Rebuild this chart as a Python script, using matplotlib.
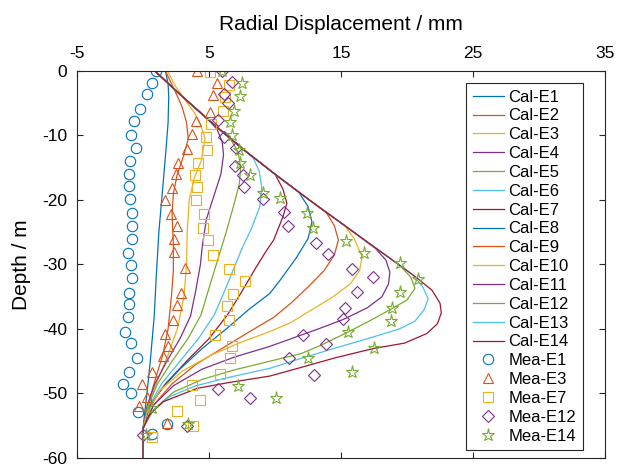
import matplotlib
matplotlib.use("Agg")
import matplotlib.pyplot as plt

plt.rcParams["font.family"] = ["Liberation Sans", "DejaVu Sans"]
plt.rcParams["axes.unicode_minus"] = False

# Calculated wall deflection curves (x: displacement mm, y: depth m)
cal_e1_x = [1.7, 1.9, 1.95, 1.9, 1.75, 1.5, 1.2, 1.0, 0.85, 0.55, 0.3, 0.1, 0.0, 0.0]
cal_e1_y = [0, -2, -4, -8, -12, -18, -25, -32, -38, -45, -50, -53.5, -55.5, -60]

cal_e2_x = [1.7, 2.4, 2.95, 3.3, 3.43, 3.1, 2.6, 2.3, 2.2, 2.3, 2.3, 2.15, 1.9, 1.5, 0.9, 0.35, 0.05, 0.0, 0.0]
cal_e2_y = [0, -3, -5.5, -8, -10.5, -13, -16, -19, -22, -27, -31, -35, -40, -44, -48, -52, -55, -55.5, -60]

cal_e3_x = [1.85, 2.5, 3.2, 3.9, 4.4, 4.7, 4.4, 3.9, 3.5, 3.35, 3.3, 3.1, 2.6, 1.9, 1.1, 0.4, 0.0, 0.0]
cal_e3_y = [0, -2.5, -4.5, -6.5, -8.5, -10.5, -14, -16.5, -20, -25, -30, -35, -40, -44, -48, -52, -55.5, -60]

cal_e4_x = [0.9, 3.0, 4.9, 5.6, 6.0, 6.1, 5.9, 5.35, 4.8, 4.5, 4.35, 4.0, 3.6, 2.8, 1.8, 0.9, 0.3, 0.0, 0.0]
cal_e4_y = [0, -4, -7.5, -9, -11, -13, -16, -19.5, -23, -27, -30, -34, -38, -41.5, -45, -48.5, -52, -55.5, -60]

cal_e5_x = [0.9, 3.0, 5.2, 6.6, 7.2, 7.4, 7.3, 6.85, 6.3, 5.7, 5.1, 4.4, 3.4, 2.2, 1.1, 0.35, 0.0, 0.0]
cal_e5_y = [0, -4, -8, -10.5, -12.5, -15, -17.5, -21, -25, -29, -33, -37.8, -41.5, -45, -48.5, -52, -55.5, -60]

cal_e6_x = [0.9, 3.0, 5.2, 7.5, 8.35, 8.8, 9.0, 8.85, 8.2, 7.5, 6.8, 6.1, 5.4, 4.2, 2.8, 1.4, 0.45, 0.0, 0.0]
cal_e6_y = [0, -4, -8, -12, -13.5, -15.5, -18, -21, -24.5, -27.5, -31, -34.5, -37.8, -41.5, -45, -48.5, -52, -55.5, -60]

cal_e7_x = [0.9, 3.0, 5.2, 7.5, 10.0, 10.6, 10.9, 10.6, 9.9, 9.3, 8.4, 7.4, 6.4, 5.0, 3.3, 1.7, 0.5, 0.0, 0.0]
cal_e7_y = [0, -4, -8, -12, -16, -18.3, -20.5, -22.6, -26.2, -28, -31, -34.5, -37.8, -41.5, -45, -48.5, -52, -55.5, -60]

cal_e8_x = [0.9, 3.0, 5.2, 7.5, 10.0, 11.8, 12.5, 12.8, 12.5, 11.6, 10.4, 9.6, 8.0, 6.3, 4.5, 2.8, 1.3, 0.3, 0.0, 0.0]
cal_e8_y = [0, -4, -8, -12, -16, -18.8, -21, -23.4, -26, -29, -32.4, -34.5, -37, -40, -43, -46.2, -49.5, -53, -55.5, -60]

cal_e9_x = [0.9, 3.0, 5.2, 7.5, 10.0, 12.6, 13.9, 14.5, 14.8, 14.5, 13.7, 12.5, 11.2, 9.9, 8.0, 6.0, 4.0, 2.2, 0.8, 0.1, 0.0, 0.0]
cal_e9_y = [0, -4, -8, -12, -16, -20, -22, -24, -26.2, -28.5, -31, -33.5, -36, -38.2, -40.5, -43, -45.5, -48.5, -51.8, -55, -55.5, -60]

cal_e10_x = [0.9, 3.0, 5.2, 7.5, 10.0, 12.6, 15.3, 16.0, 16.6, 16.4, 15.7, 14.4, 12.8, 11.2, 9.6, 7.5, 5.2, 3.0, 1.3, 0.3, 0.0, 0.0]
cal_e10_y = [0, -4, -8, -12, -16, -20, -24, -26, -28.8, -31, -33, -35, -37, -39, -40.4, -42, -44, -46.5, -49.5, -53, -55.5, -60]

cal_e11_x = [0.9, 3.0, 5.2, 7.5, 10.0, 12.6, 15.3, 17.6, 18.4, 18.7, 18.6, 18.1, 17.0, 15.2, 13.4, 11.5, 9.6, 7.0, 4.5, 2.3, 0.8, 0.1, 0.0, 0.0]
cal_e11_y = [0, -4, -8, -12, -16, -20, -24, -27.5, -29.3, -31.2, -33, -35, -36.7, -38.5, -39.9, -41.3, -42.7, -44.3, -46.2, -48.8, -51.8, -55, -55.5, -60]

cal_e12_x = [0.9, 3.0, 5.2, 7.5, 10.0, 12.6, 15.3, 18.0, 19.4, 20.3, 20.6, 20.0, 18.9, 17.3, 15.5, 13.5, 12.0, 9.6, 7.0, 4.5, 2.3, 0.8, 0.1, 0.0, 0.0]
cal_e12_y = [0, -4, -8, -12, -16, -20, -24, -28, -30, -32, -33.7, -35.5, -36.8, -38.6, -40.5, -42.5, -43.8, -45.0, -46.3, -47.8, -49.8, -52.5, -55, -55.5, -60]

cal_e13_x = [0.9, 3.0, 5.2, 7.5, 10.0, 12.6, 15.3, 18.0, 20.4, 21.2, 21.6, 21.3, 20.6, 19.4, 17.5, 14.5, 11.9, 9.6, 6.5, 4.0, 2.0, 0.7, 0.1, 0.0, 0.0]
cal_e13_y = [0, -4, -8, -12, -16, -20, -24, -28, -31.5, -33.5, -35.3, -37, -38.8, -40, -41.2, -43, -44.6, -46.1, -47.5, -48.8, -50.5, -52.8, -55, -55.5, -60]

cal_e14_x = [0.9, 3.0, 5.2, 7.5, 10.0, 12.6, 15.3, 18.0, 20.7, 21.9, 22.5, 22.6, 22.3, 21.5, 19.8, 17.5, 14.5, 11.9, 9.6, 6.5, 4.1, 1.5, 0.5, 0.1, 0.0, 0.0]
cal_e14_y = [0, -4, -8, -12, -16, -20, -24, -28, -32, -34, -36, -37.5, -39.2, -40.7, -42.2, -43.0, -44.5, -46.0, -47.3, -48.3, -49.2, -51.3, -53.3, -55, -55.5, -60]

# Measured points
mea_e1_x = [1.0, 0.7, 0.3, -0.2, -0.7, -0.9, -0.55, -1.0, -1.05, -1.05, -1.0, -0.85, -0.85, -0.85,
            -1.1, -0.9, -0.8, -1.05, -1.05, -1.15, -1.4, -0.9, -0.45, -1.05, -1.55, -0.9, -0.35, 1.8, 0.7]
mea_e1_y = [0, -1.8, -3.5, -5.9, -7.8, -9.9, -11.9, -14.0, -16.0, -17.9, -19.8, -22.0, -24.0, -26.1,
            -28.2, -30.1, -32.1, -34.4, -36.1, -38.2, -40.5, -42.2, -44.5, -46.6, -48.6, -50.0, -52.9, -54.8, -56.3]

mea_e3_x = [4.07, 5.58, 5.33, 5.08, 3.98, 3.73, 3.3, 2.67, 2.47, 2.17, 1.67, 2.12, 2.55, 2.37,
            2.37, 3.18, 2.88, 2.55, 2.3, 1.67, 1.86, 1.54, 0.7, -0.11, 0.33, -0.3, 1.82]
mea_e3_y = [0, -1.9, -3.7, -6.3, -7.75, -9.8, -12.1, -14.2, -16.0, -18.1, -20.0, -22.1, -24.1, -26.1,
            -28.0, -30.6, -34.4, -36.3, -38.6, -40.8, -42.7, -44.2, -46.7, -48.5, -50.5, -51.9, -54.6]

mea_e7_x = [5.08, 6.54, 6.21, 6.08, 5.13, 4.75, 4.87, 4.14, 3.94, 4.07, 3.98, 4.62, 4.57, 4.9, 5.33,
            6.54, 7.73, 6.84, 6.39, 6.5, 5.45, 6.75, 6.57, 5.83, 3.68, 4.32, 2.55, 3.75, 0.68]
mea_e7_y = [-0.2, -2.2, -4.0, -6.2, -8.2, -10.3, -12.2, -14.3, -16.1, -18.0, -20.0, -22.1, -24.3, -26.2, -28.5,
            -30.7, -32.5, -34.5, -36.5, -38.6, -40.9, -42.6, -44.5, -47.0, -48.7, -51.0, -52.7, -55.0, -56.7]

mea_e12_x = [6.0, 6.72, 6.16, 6.46, 5.65, 6.1, 7.05, 6.94, 7.55, 7.65, 9.07, 10.68, 11.01, 13.1,
             13.98, 15.87, 17.45, 16.19, 15.3, 15.17, 12.1, 13.86, 11.08, 12.98, 5.7, 8.1, 3.3, 0.0]
mea_e12_y = [0, -1.65, -3.6, -5.0, -7.6, -10.3, -12.0, -14.7, -16.1, -18.0, -19.9, -21.8, -24.1, -26.7,
             -28.4, -30.7, -31.9, -34.2, -36.8, -38.5, -40.9, -42.3, -44.5, -47.2, -49.3, -50.7, -55.0, -56.4]

mea_e14_x = [6.0, 7.47, 7.35, 6.89, 6.59, 6.77, 7.3, 7.35, 8.12, 9.1, 10.35, 12.4, 12.9, 15.35, 16.77,
             19.5, 20.86, 19.47, 18.85, 18.75, 15.55, 17.5, 12.47, 15.85, 7.17, 10.08, 0.7, 3.43, 0.2]
mea_e14_y = [0, -1.9, -3.9, -6.2, -7.9, -9.9, -12.2, -14.2, -16.1, -18.9, -19.7, -22.0, -24.4, -26.3, -28.2,
             -29.8, -32.3, -34.2, -36.7, -38.8, -40.5, -42.9, -44.5, -46.6, -48.8, -50.7, -52.2, -54.8, -56.4]

cal_x = [cal_e1_x, cal_e2_x, cal_e3_x, cal_e4_x, cal_e5_x, cal_e6_x, cal_e7_x,
         cal_e8_x, cal_e9_x, cal_e10_x, cal_e11_x, cal_e12_x, cal_e13_x, cal_e14_x]
cal_y = [cal_e1_y, cal_e2_y, cal_e3_y, cal_e4_y, cal_e5_y, cal_e6_y, cal_e7_y,
         cal_e8_y, cal_e9_y, cal_e10_y, cal_e11_y, cal_e12_y, cal_e13_y, cal_e14_y]

# MATLAB default colour order
colors = ["#0072BD", "#D95319", "#EDB120", "#7E2F8E", "#77AC30", "#4DBEEE", "#A2142F"]

fig = plt.figure(figsize=(6.19, 4.71), dpi=100)
ax = fig.add_axes([0.1244, 0.0276, 0.853, 0.8217])

for i in range(14):
    ax.plot(cal_x[i], cal_y[i], color=colors[i % 7], lw=0.9, label="Cal-E%d" % (i + 1))

ms = 7.5
ax.plot(mea_e1_x, mea_e1_y, "o", mfc="none", mec=colors[0], ms=ms, mew=0.8, label="Mea-E1")
ax.plot(mea_e3_x, mea_e3_y, "^", mfc="none", mec=colors[1], ms=ms, mew=0.8, label="Mea-E3")
ax.plot(mea_e7_x, mea_e7_y, "s", mfc="none", mec=colors[2], ms=6.5, mew=0.8, label="Mea-E7")
ax.plot(mea_e12_x, mea_e12_y, "D", mfc="none", mec=colors[3], ms=6.5, mew=0.8, label="Mea-E12")
ax.plot(mea_e14_x, mea_e14_y, "*", mfc="none", mec=colors[4], ms=9.5, mew=0.8, label="Mea-E14")

ax.set_xlim(-5, 35)
ax.set_ylim(-60, 0)
ax.set_xticks([-5, 5, 15, 25, 35])
ax.set_yticks([-60, -50, -40, -30, -20, -10, 0])
ax.xaxis.tick_top()
ax.xaxis.set_label_position("top")
ax.tick_params(direction="in", top=True, bottom=True, left=True, right=True,
               labeltop=True, labelbottom=False, length=4, width=0.8,
               labelsize=12.5, color="#262626", pad=7)
for s in ax.spines.values():
    s.set_color("#262626")
    s.set_linewidth(0.8)

ax.set_xlabel("Radial Displacement / mm", fontsize=15, labelpad=12)
ax.set_ylabel("Depth / m", fontsize=15, labelpad=8)

leg = ax.legend(loc="upper right", bbox_to_anchor=(0.958, 0.969), borderaxespad=0,
                fontsize=12, handlelength=1.9, handletextpad=0.25, labelspacing=0.23,
                borderpad=0.4, fancybox=False, edgecolor="#262626", framealpha=1,
                numpoints=1)
leg.get_frame().set_linewidth(0.8)

fig.savefig("out.png", dpi=100)
